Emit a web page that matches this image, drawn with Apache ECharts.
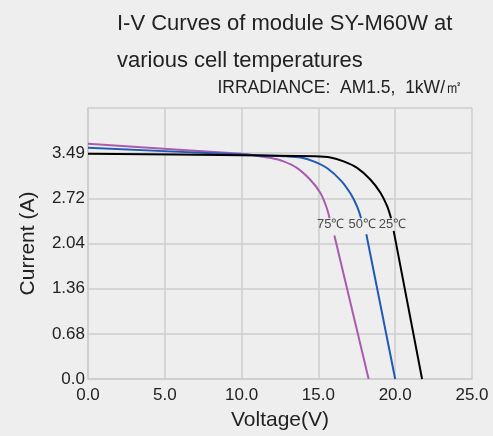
<!DOCTYPE html>
<html>
<head>
<meta charset="utf-8">
<script src="https://cdn.jsdelivr.net/npm/echarts@6/dist/echarts.min.js"></script>
<style>
html,body{margin:0;padding:0;background:#eeeeee;}
#c{width:493px;height:436px;}
</style>
</head>
<body>
<div id="c"></div>
<script>
// Data (null marks the gap where the temperature label sits)
const voltage25 = [0, 10, 14.8, 15.78, 16.64, 17.52, 18.38, 19.04, 19.47, 19.73, null, 19.9, 21.75];
const current25 = [3.39, 3.37, 3.352, 3.335, 3.277, 3.179, 3.004, 2.805, 2.605, 2.42, null, 2.23, 0];
const voltage50 = [0, 10, 12.9, 13.83, 14.69, 15.6, 16.5, 17.12, 17.53, 17.78, null, 18.12, 20.0];
const current50 = [3.48, 3.38, 3.352, 3.335, 3.277, 3.17, 2.98, 2.78, 2.59, 2.42, null, 2.18, 0];
const voltage75 = [0, 10, 10.9, 11.86, 12.73, 13.6, 14.47, 15.12, 15.5, 15.73, null, 16.04, 18.27];
const current75 = [3.54, 3.39, 3.365, 3.33, 3.277, 3.179, 3.0, 2.805, 2.605, 2.42, null, 2.16, 0];
const labelNames = ['25℃', '50℃', '75℃'];
const labelVoltage = [19.82, 17.85, 15.8];
const labelCurrent = [2.32, 2.32, 2.32];
const xTickLabels = ['0.0', '5.0', '10.0', '15.0', '20.0', '25.0'];
const yTickLabels = ['0.0', '0.68', '1.36', '2.04', '2.72', '3.49', ''];

function pairs(xs, ys) {
  return xs.map((x, i) => (x === null ? [null, '-'] : [x, ys[i]]));
}

const FONT = 'Liberation Sans';
const chart = echarts.init(document.getElementById('c'), null, {renderer: 'canvas'});
const lineBase = {type: 'line', showSymbol: false, symbol: 'none', smooth: 0.3, connectNulls: false};
chart.setOption({
  backgroundColor: '#eeeeee',
  animation: false,
  title: [
    {
      text: 'I-V Curves of module SY-M60W at\nvarious cell temperatures',
      left: 117, top: 5, padding: 0,
      textStyle: {fontFamily: FONT, fontSize: 22, fontWeight: 'normal', color: '#222', lineHeight: 37}
    },
    {
      text: 'IRRADIANCE:  AM1.5,  1kW/㎡',
      right: 30, top: 79, padding: 0,
      textStyle: {fontFamily: FONT, fontSize: 17.5, fontWeight: 'normal', color: '#222', lineHeight: 18}
    }
  ],
  grid: {left: 88, right: 21, top: 108, bottom: 55},
  xAxis: {
    type: 'value', min: 0, max: 25, interval: 5,
    name: 'Voltage(V)', nameLocation: 'middle', nameGap: 31,
    nameTextStyle: {fontFamily: FONT, fontSize: 21, color: '#222'},
    axisLine: {show: true, lineStyle: {color: '#cccccc', width: 1.5}},
    axisTick: {show: false},
    axisLabel: {fontFamily: FONT, fontSize: 17, color: '#222', margin: 8,
      formatter: (v, i) => xTickLabels[i]},
    splitLine: {show: true, lineStyle: {color: '#cccccc', width: 1.5}}
  },
  yAxis: {
    type: 'value', min: 0, max: 4.08, interval: 0.68,
    name: 'Current (A)', nameLocation: 'middle', nameGap: 49,
    nameTextStyle: {fontFamily: FONT, fontSize: 21, color: '#222'},
    axisLine: {show: true, lineStyle: {color: '#cccccc', width: 1.5}},
    axisTick: {show: false},
    axisLabel: {fontFamily: FONT, fontSize: 17, color: '#222', margin: 3,
      formatter: (v, i) => yTickLabels[i]},
    splitLine: {show: true, lineStyle: {color: '#cccccc', width: 1.5}}
  },
  series: [
    Object.assign({}, lineBase, {name: '25', data: pairs(voltage25, current25), lineStyle: {color: '#000000', width: 2}, itemStyle: {color: '#000'}, z: 5}),
    Object.assign({}, lineBase, {name: '50', data: pairs(voltage50, current50), lineStyle: {color: '#1f5ab4', width: 2}, itemStyle: {color: '#1f5ab4'}, z: 4}),
    Object.assign({}, lineBase, {name: '75', data: pairs(voltage75, current75), lineStyle: {color: '#a95bb0', width: 2}, itemStyle: {color: '#a95bb0'}, z: 3}),
    {
      type: 'scatter', symbolSize: 0, silent: true,
      data: labelNames.map((n, i) => [labelVoltage[i], labelCurrent[i], n]),
      label: {show: true, position: 'inside', formatter: p => p.value[2],
        fontFamily: FONT, fontSize: 13, color: '#222'}
    }
  ]
});
</script>
</body>
</html>
